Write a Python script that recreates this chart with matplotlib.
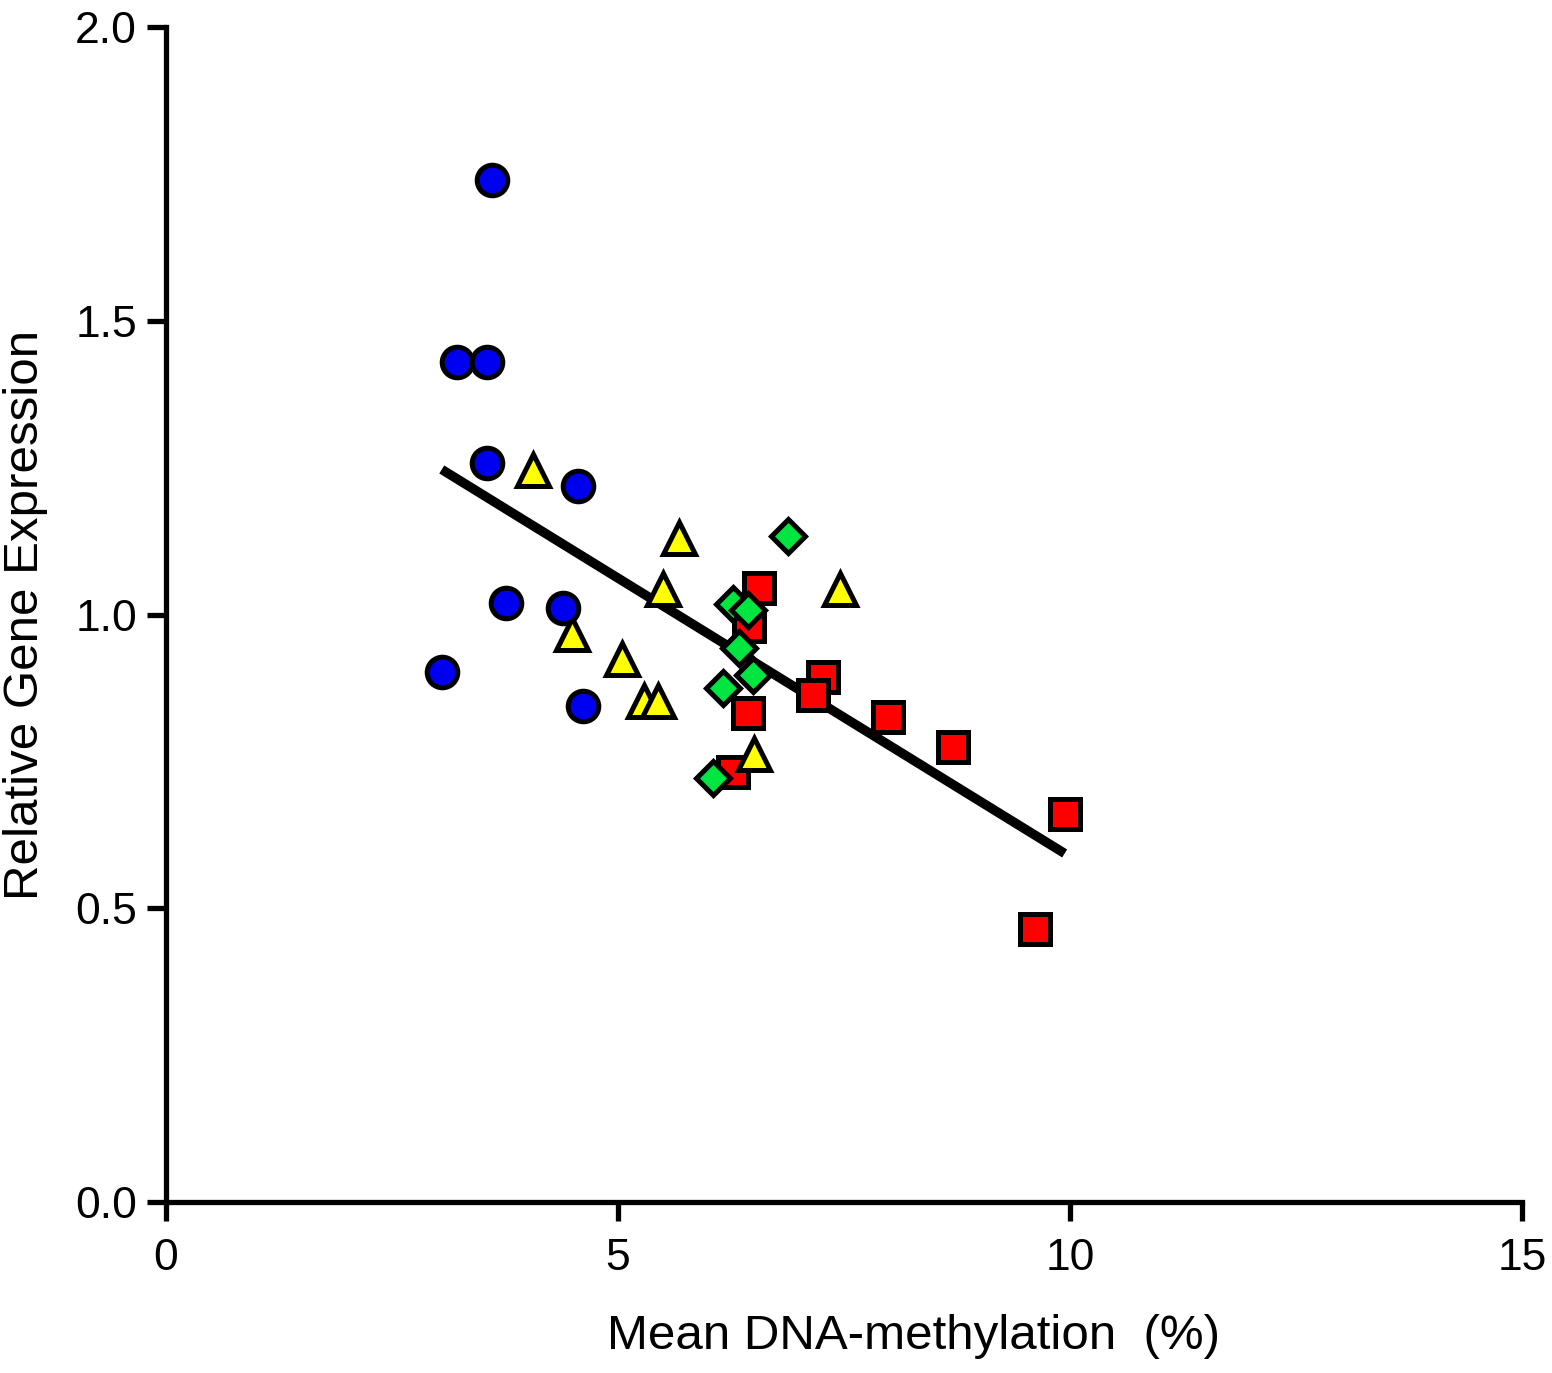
import numpy as np
import matplotlib
matplotlib.use("Agg")
import matplotlib.pyplot as plt

plt.rcParams['font.family'] = ['Liberation Sans', 'DejaVu Sans']

# blue circles
blue_x = [3.61, 3.22, 3.55, 3.55, 4.56, 3.76, 4.39, 3.05, 4.61]
blue_y = [1.74, 1.43, 1.43, 1.258, 1.219, 1.02, 1.011, 0.902, 0.844]

# yellow triangles
yellow_x = [4.06, 5.67, 5.50, 4.49, 5.04, 5.29, 5.44, 6.50, 7.46]
yellow_y = [1.246, 1.13, 1.043, 0.967, 0.924, 0.853, 0.853, 0.763, 1.043]

# green diamonds
green_x = [6.88, 6.27, 6.44, 6.34, 6.49, 6.16, 6.05]
green_y = [1.134, 1.018, 1.008, 0.943, 0.897, 0.875, 0.722]

# red squares
red_x = [6.56, 6.45, 7.27, 7.16, 6.44, 7.99, 8.71, 6.27, 9.94, 9.61]
red_y = [1.045, 0.98, 0.894, 0.863, 0.832, 0.825, 0.774, 0.732, 0.661, 0.465]

fig = plt.figure(figsize=(15.52, 13.73), dpi=100)
ax = fig.add_axes([0.107, 0.1245, 0.8737, 0.8558])

all_x = np.array(blue_x + yellow_x + green_x + red_x)
all_y = np.array(blue_y + yellow_y + green_y + red_y)
slope, icpt = np.polyfit(all_x, all_y, 1)
fx = np.array([all_x.min(), all_x.max()])
ax.plot(fx, slope * fx + icpt, color='black', lw=6.8, zorder=2, solid_capstyle='butt')

ax.plot(red_x, red_y, 's', ms=21, mfc='#ff0000', mec='black', mew=3.6, zorder=3)
ax.plot(green_x, green_y, 'D', ms=17, mfc='#00e640', mec='black', mew=3.6, zorder=3)
ax.plot(yellow_x, yellow_y, '^', ms=23, mfc='#ffff00', mec='black', mew=3.6, zorder=3)
ax.plot(blue_x, blue_y, 'o', ms=22, mfc='#0000f0', mec='black', mew=3.6, zorder=3)

ax.set_xlim(0, 15)
ax.set_ylim(0, 2.0)
ax.set_xticks([0, 5, 10, 15])
ax.set_yticks([0.0, 0.5, 1.0, 1.5, 2.0])
ax.set_yticklabels(['0.0', '0.5', '1.0', '1.5', '2.0'])

for s in ['top', 'right']:
    ax.spines[s].set_visible(False)
for s in ['left', 'bottom']:
    ax.spines[s].set_linewidth(3.8)
ax.tick_params(direction='out', length=14, width=3.8, labelsize=32)
ax.tick_params(axis='x', pad=12)
ax.tick_params(axis='y', pad=7)

ax.set_xlabel('Mean DNA-methylation  (%)', fontsize=35.5, labelpad=30)
ax.xaxis.set_label_coords(0.551, -0.095)
ax.set_ylabel('Relative Gene Expression', fontsize=35.5)
ax.yaxis.set_label_coords(-0.087, 0.5)

fig.savefig('out.png', dpi=100)
